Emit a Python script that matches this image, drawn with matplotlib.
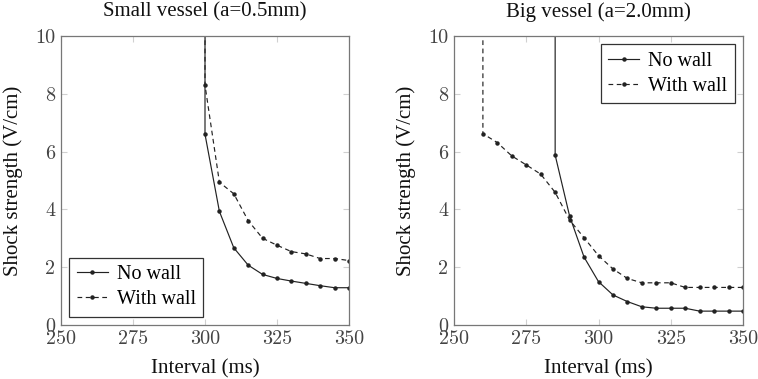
import matplotlib
matplotlib.use("Agg")
import matplotlib.pyplot as plt

# ---- data ----
small_x = [300, 300, 305, 310, 315, 320, 325, 330, 335, 340, 345, 350]
small_no_wall = [12, 6.60, 3.93, 2.67, 2.07, 1.75, 1.61, 1.52, 1.44, 1.36, 1.29, 1.29]
small_with_wall = [12, 8.30, 4.94, 4.54, 3.61, 3.00, 2.76, 2.54, 2.46, 2.30, 2.30, 2.23]

big_nw_x = [285, 285, 290, 295, 300, 305, 310, 315, 320, 325, 330, 335, 340, 345, 350]
big_no_wall = [12, 5.88, 3.77, 2.35, 1.50, 1.04, 0.81, 0.63, 0.58, 0.58, 0.58, 0.48, 0.48, 0.48, 0.48]
big_ww_x = [260, 260, 265, 270, 275, 280, 285, 290, 295, 300, 305, 310, 315, 320, 325,
            330, 335, 340, 345, 350]
big_with_wall = [12, 6.62, 6.31, 5.85, 5.54, 5.22, 4.59, 3.63, 3.02, 2.40, 1.94, 1.61, 1.46,
                 1.46, 1.46, 1.30, 1.30, 1.30, 1.30, 1.30]

titles = ["Small vessel (a=0.5mm)", "Big vessel (a=2.0mm)"]
xticks = [250, 275, 300, 325, 350]
yticks = [0, 2, 4, 6, 8, 10]
legend_labels = ["No wall", "With wall"]

text_font = "Liberation Serif"
tick_font = "cmr10"

fig = plt.figure(figsize=(7.58, 3.79), dpi=100)
ax1 = fig.add_axes([61 / 758, 54 / 379, 288 / 758, 289 / 379])
ax2 = fig.add_axes([454 / 758, 54 / 379, 289 / 758, 289 / 379])

panels = [
    (ax1, small_x, small_no_wall, small_x, small_with_wall, "lower left"),
    (ax2, big_nw_x, big_no_wall, big_ww_x, big_with_wall, "upper right"),
]

for i, (ax, xn, yn, xw, yw, loc) in enumerate(panels):
    ax.plot(xn, yn, color="#222222", lw=0.85, marker="o", ms=2.2,
            label=legend_labels[0])
    ax.plot(xw, yw, color="#222222", lw=0.85, ls=(0, (4, 3)), marker="o", ms=2.2,
            label=legend_labels[1])
    ax.set_xlim(250, 350)
    ax.set_ylim(0, 10)
    ax.set_xticks(xticks)
    ax.set_yticks(yticks)
    ax.tick_params(direction="in", top=True, right=True, length=4, width=0.8,
                   color="#d0d0d0", labelcolor="#444444", labelsize=14.5, pad=4)
    for lab in ax.get_xticklabels() + ax.get_yticklabels():
        lab.set_fontfamily(tick_font)
    for sp in ax.spines.values():
        sp.set_color("#777777")
        sp.set_linewidth(0.9)
    ax.set_title(titles[i], fontfamily=text_font, fontsize=15, pad=14, color="#111111")
    ax.set_xlabel("Interval (ms)", fontfamily=text_font, fontsize=15, labelpad=8, color="#111111")
    ax.set_ylabel("Shock strength (V/cm)", fontfamily=text_font, fontsize=15, labelpad=9,
                  color="#111111")
    leg = ax.legend(loc=loc, prop={"family": text_font, "size": 14.5},
                    fancybox=False, frameon=True, edgecolor="#333333", framealpha=1,
                    handlelength=1.55, handletextpad=0.45, borderpad=0.35, labelspacing=0.3,
                    borderaxespad=0.42)
    leg.get_frame().set_linewidth(0.9)

fig.savefig("out.png", dpi=100)
